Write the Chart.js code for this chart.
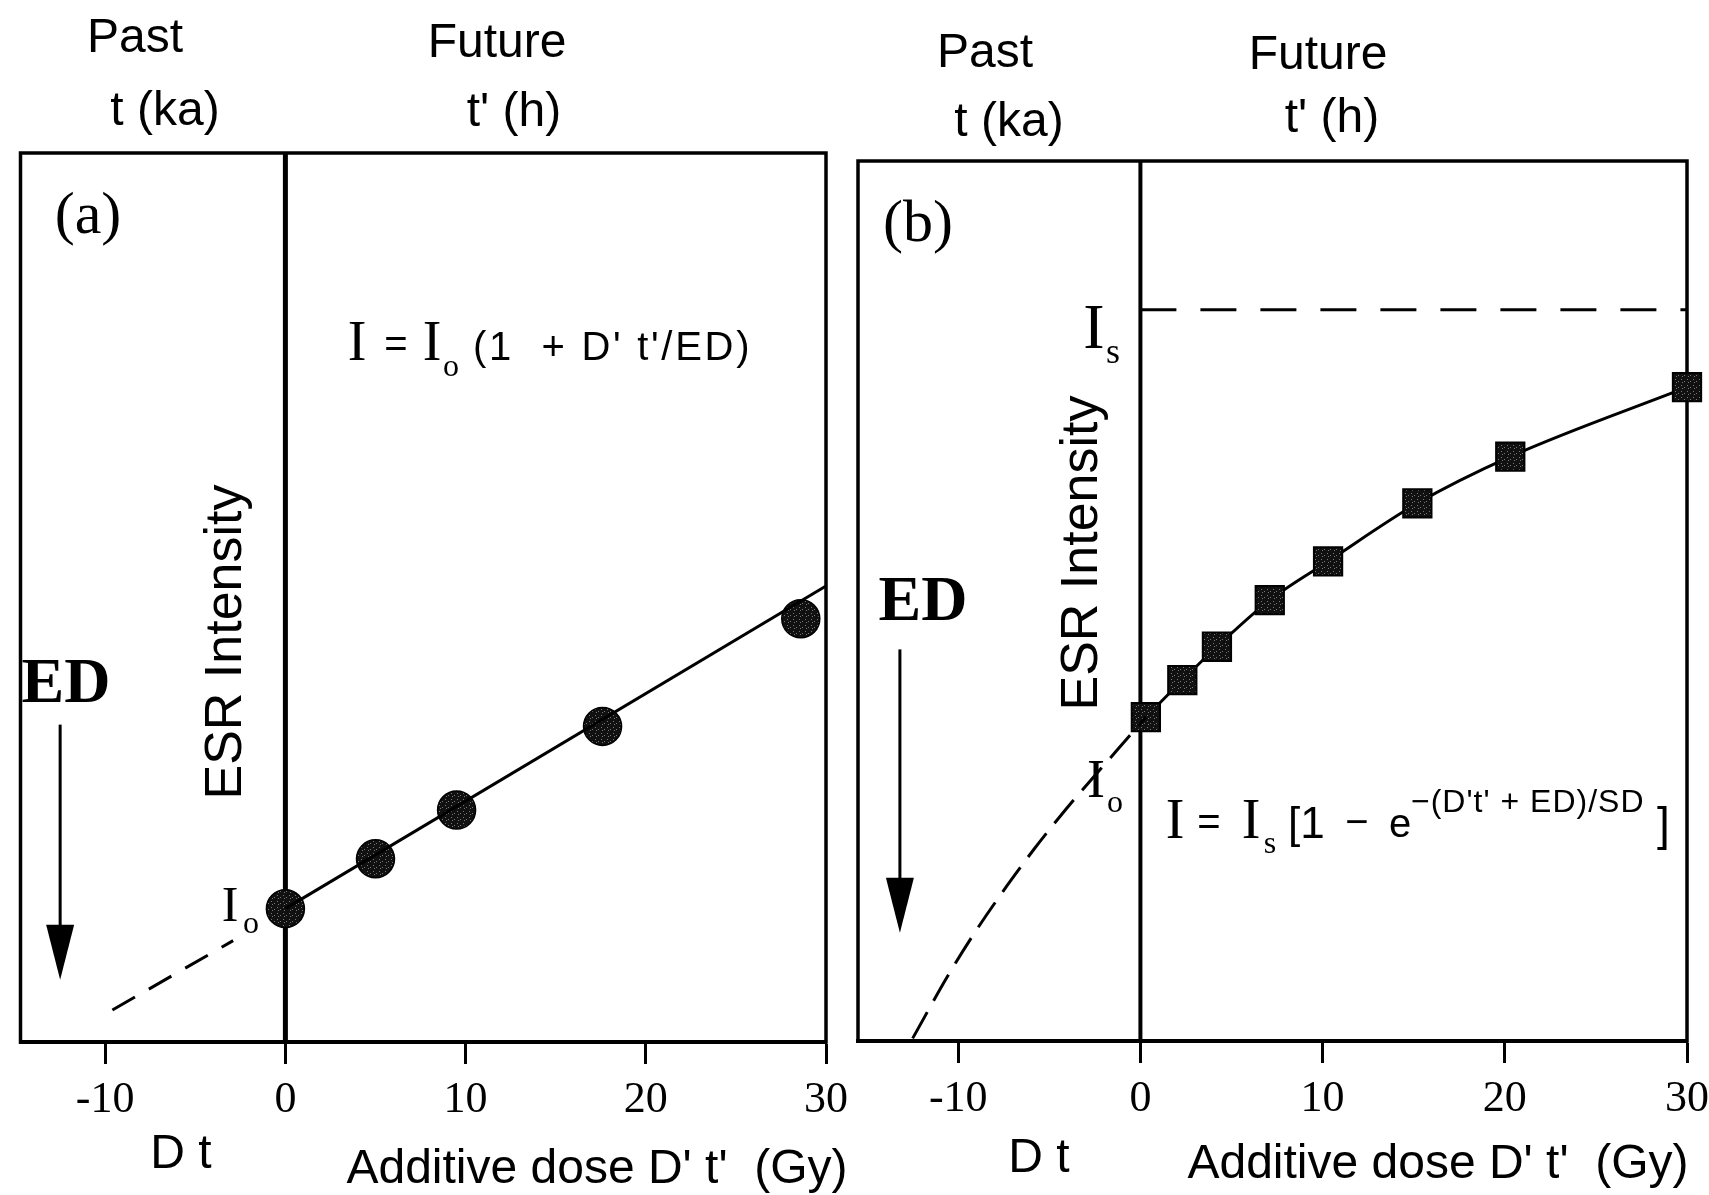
<!DOCTYPE html>
<html>
<head>
<meta charset="utf-8">
<script src="https://cdn.jsdelivr.net/npm/chart.js@4.4.1/dist/chart.umd.min.js"></script>
<style>
  html, body { margin: 0; padding: 0; background: #fff; }
  #wrap { position: relative; width: 1709px; height: 1195px; }
  canvas { position: absolute; left: 0; top: 0; }
</style>
</head>
<body>
<div id="wrap">
  <canvas id="panel-a" width="1709" height="1195"></canvas>
  <canvas id="panel-b" width="1709" height="1195"></canvas>
</div>
<script>
// tick labels shared by both panels (dose, Gy)
const xTicks = [-10, 0, 10, 20, 30]

// panel (a): linear growth
const doseA = [0, 5.0, 9.5, 17.6, 28.6]
const intensityA = [15.0, 20.6, 26.1, 35.5, 47.6]
const fitDoseA = [0, 30]
const fitIntensityA = [15.0, 51.3]
const backDoseA = [-9.6, -2.9]
const backIntensityA = [3.6, 11.4]

// panel (b): saturating growth
const doseB = [0.3, 2.3, 4.2, 7.1, 10.3, 15.2, 20.3, 30.0]
const intensityB = [36.8, 41.0, 44.8, 50.1, 54.5, 61.1, 66.4, 74.3]
const backDoseB = [-12.5, -10.6, -9.1, -7.3, -5.8, -4.1, -1.3, 0.3]
const backIntensityB = [0.3, 7.3, 12.3, 17.7, 21.9, 26.3, 33.0, 36.8]
const satDoseB = [0, 30]
const satIntensityB = [83.1, 83.1]

const SANS = '"Liberation Sans", Arial, sans-serif'
const SERIF = '"Liberation Serif", "Times New Roman", serif'

const pts = (xs, ys) => xs.map((x, i) => ({ x, y: ys[i] }))

// speckled fill like the scanned square markers
function speckle() {
  const c = document.createElement('canvas')
  c.width = 6
  c.height = 6
  const g = c.getContext('2d')
  g.fillStyle = '#111'
  g.fillRect(0, 0, 6, 6)
  g.fillStyle = '#777'
  g.fillRect(1, 1, 1, 1)
  g.fillRect(4, 3, 1, 1)
  g.fillRect(2, 4, 1, 1)
  return g.createPattern(c, 'repeat')
}

function txt(ctx, s, x, y, font, align = 'center', spacing = '0px') {
  ctx.font = font
  ctx.textAlign = align
  ctx.textBaseline = 'alphabetic'
  ctx.letterSpacing = spacing
  ctx.fillText(s, x, y)
  ctx.letterSpacing = '0px'
}

function panelPlugin(cfg) {
  return {
    id: 'panel',
    beforeDatasetsDraw(chart) {
      const { ctx, chartArea: a, scales: { x, y } } = chart
      ctx.save()
      ctx.strokeStyle = '#000'
      ctx.fillStyle = '#000'
      ctx.lineWidth = 3.5
      ctx.strokeRect(a.left, a.top, a.width, a.height)

      // t = 0 divider
      const x0 = x.getPixelForValue(0)
      ctx.lineWidth = cfg.zeroWidth
      ctx.beginPath()
      ctx.moveTo(x0, a.top)
      ctx.lineTo(x0, a.bottom)
      ctx.stroke()

      // ED arrow
      const ax = x.getPixelForValue(cfg.arrow.x)
      const ay1 = y.getPixelForValue(cfg.arrow.from)
      const ay2 = y.getPixelForValue(cfg.arrow.to)
      ctx.lineWidth = 3
      ctx.beginPath()
      ctx.moveTo(ax, ay1)
      ctx.lineTo(ax, ay2 - 40)
      ctx.stroke()
      ctx.beginPath()
      ctx.moveTo(ax - 14, ay2 - 55)
      ctx.lineTo(ax + 14, ay2 - 55)
      ctx.lineTo(ax, ay2)
      ctx.closePath()
      ctx.fill()
      ctx.restore()
    },
    afterDraw(chart) {
      const { ctx } = chart
      ctx.save()
      ctx.fillStyle = '#000'
      cfg.labels.forEach(l => {
        if (l.rotate) {
          ctx.save()
          ctx.translate(l.x, l.y)
          ctx.rotate(-Math.PI / 2)
          txt(ctx, l.t, 0, 0, l.font)
          ctx.restore()
        } else {
          txt(ctx, l.t, l.x, l.y, l.font, l.align || 'center', l.sp || '0px')
        }
      })
      ctx.restore()
    }
  }
}

function makeOptions(min, max, padLeft, padRight, padTop, axisHeight) {
  return {
    responsive: false,
    animation: false,
    events: [],
    layout: { padding: { left: padLeft, right: padRight, top: padTop, bottom: 0 } },
    plugins: { legend: { display: false }, tooltip: { enabled: false } },
    scales: {
      x: {
        type: 'linear',
        min,
        max,
        afterBuildTicks: s => { s.ticks = xTicks.map(v => ({ value: v })) },
        afterFit: s => {
          s.height = axisHeight
          s.paddingLeft = 0
          s.paddingRight = 0
        },
        grid: { drawOnChartArea: false, drawTicks: true, tickLength: 22, tickWidth: 3, tickColor: '#000' },
        border: { display: true, color: '#000', width: 4 },
        ticks: {
          font: { family: SERIF, size: 44 },
          color: '#000',
          padding: 10,
          maxRotation: 0,
          autoSkip: false
        }
      },
      y: { display: false, min: 0, max: 100 }
    }
  }
}

// ---- panel (a)
new Chart('panel-a', {
  type: 'scatter',
  data: {
    datasets: [
      {
        data: pts(backDoseA, backIntensityA),
        showLine: true,
        borderColor: '#000',
        borderWidth: 3,
        borderDash: [26, 16],
        pointRadius: 0,
        clip: false
      },
      {
        data: pts(fitDoseA, fitIntensityA),
        showLine: true,
        borderColor: '#000',
        borderWidth: 3,
        pointRadius: 0,
        clip: false
      },
      {
        data: pts(doseA, intensityA),
        pointStyle: 'circle',
        pointRadius: 19,
        backgroundColor: speckle(),
        borderColor: '#000',
        borderWidth: 1.5,
        clip: false
      }
    ]
  },
  options: makeOptions(-14.7, 30, 16, 883, 153, 153),
  plugins: [panelPlugin({
    zeroWidth: 5,
    arrow: { x: -12.5, from: 35.7, to: 7.0 },
    labels: [
      { t: 'Past', x: 135, y: 52, font: `48px ${SANS}` },
      { t: 't (ka)', x: 165, y: 125, font: `48px ${SANS}` },
      { t: 'Future', x: 497, y: 57, font: `48px ${SANS}` },
      { t: "t' (h)", x: 514, y: 126, font: `48px ${SANS}` },
      { t: '(a)', x: 88, y: 233, font: `60px ${SERIF}` },
      { t: 'ED', x: 66, y: 702, font: `bold 64px ${SERIF}` },
      { t: 'ESR Intensity', x: 241, y: 642, font: `52px ${SANS}`, rotate: true },
      { t: 'I', x: 230, y: 921, font: `50px ${SERIF}` },
      { t: 'o', x: 251, y: 933, font: `32px ${SERIF}` },
      { t: 'I', x: 357, y: 360, font: `56px ${SERIF}` },
      { t: '=', x: 396, y: 357, font: `40px ${SANS}` },
      { t: 'I', x: 432, y: 360, font: `56px ${SERIF}` },
      { t: 'o', x: 451, y: 376, font: `32px ${SERIF}` },
      { t: "(1  + D' t'/ED)", x: 473, y: 360, font: `40px ${SANS}`, align: 'left', sp: '2.7px' },
      { t: 'D t', x: 181, y: 1168, font: `48px ${SANS}` },
      { t: "Additive dose D' t'  (Gy)", x: 597, y: 1183, font: `48px ${SANS}` }
    ]
  })]
})

// ---- panel (b)
new Chart('panel-b', {
  type: 'scatter',
  data: {
    datasets: [
      {
        data: pts(satDoseB, satIntensityB),
        showLine: true,
        borderColor: '#000',
        borderWidth: 3,
        borderDash: [36, 24],
        pointRadius: 0,
        clip: false
      },
      {
        data: pts(backDoseB, backIntensityB),
        showLine: true,
        borderColor: '#000',
        borderWidth: 3,
        borderDash: [30, 13],
        cubicInterpolationMode: 'monotone',
        pointRadius: 0,
        clip: false
      },
      {
        data: pts(doseB, intensityB),
        showLine: true,
        borderColor: '#000',
        borderWidth: 3,
        cubicInterpolationMode: 'monotone',
        pointStyle: 'rect',
        pointRadius: 20,
        pointBackgroundColor: speckle(),
        pointBorderColor: '#000',
        pointBorderWidth: 2,
        clip: false
      }
    ]
  },
  options: makeOptions(-15.5, 30, 858, 22, 161, 154),
  plugins: [panelPlugin({
    zeroWidth: 4,
    arrow: { x: -13.2, from: 44.5, to: 12.3 },
    labels: [
      { t: 'Past', x: 985, y: 67, font: `48px ${SANS}` },
      { t: 't (ka)', x: 1009, y: 136, font: `48px ${SANS}` },
      { t: 'Future', x: 1318, y: 69, font: `48px ${SANS}` },
      { t: "t' (h)", x: 1332, y: 132, font: `48px ${SANS}` },
      { t: '(b)', x: 918, y: 241, font: `60px ${SERIF}` },
      { t: 'ED', x: 923, y: 620, font: `bold 64px ${SERIF}` },
      { t: 'ESR Intensity', x: 1097, y: 553, font: `52px ${SANS}`, rotate: true },
      { t: 'I', x: 1094, y: 348, font: `64px ${SERIF}` },
      { t: 's', x: 1113, y: 363, font: `36px ${SERIF}` },
      { t: 'I', x: 1096, y: 797, font: `54px ${SERIF}` },
      { t: 'o', x: 1115, y: 812, font: `32px ${SERIF}` },
      { t: 'I', x: 1175, y: 838, font: `56px ${SERIF}` },
      { t: '=', x: 1209, y: 835, font: `40px ${SANS}` },
      { t: 'I', x: 1251, y: 838, font: `56px ${SERIF}` },
      { t: 's', x: 1270, y: 853, font: `32px ${SERIF}` },
      { t: '[1', x: 1288, y: 838, font: `44px ${SANS}`, align: 'left' },
      { t: '\u2212', x: 1357, y: 835, font: `40px ${SANS}` },
      { t: 'e', x: 1389, y: 837, font: `40px ${SANS}`, align: 'left' },
      { t: "\u2212(D't' + ED)/SD", x: 1411, y: 812, font: `32px ${SANS}`, align: 'left', sp: '1px' },
      { t: ']', x: 1657, y: 840, font: `46px ${SANS}`, align: 'left' },
      { t: 'D t', x: 1039, y: 1172, font: `48px ${SANS}` },
      { t: "Additive dose D' t'  (Gy)", x: 1438, y: 1178, font: `48px ${SANS}` }
    ]
  })]
})
</script>
</body>
</html>
